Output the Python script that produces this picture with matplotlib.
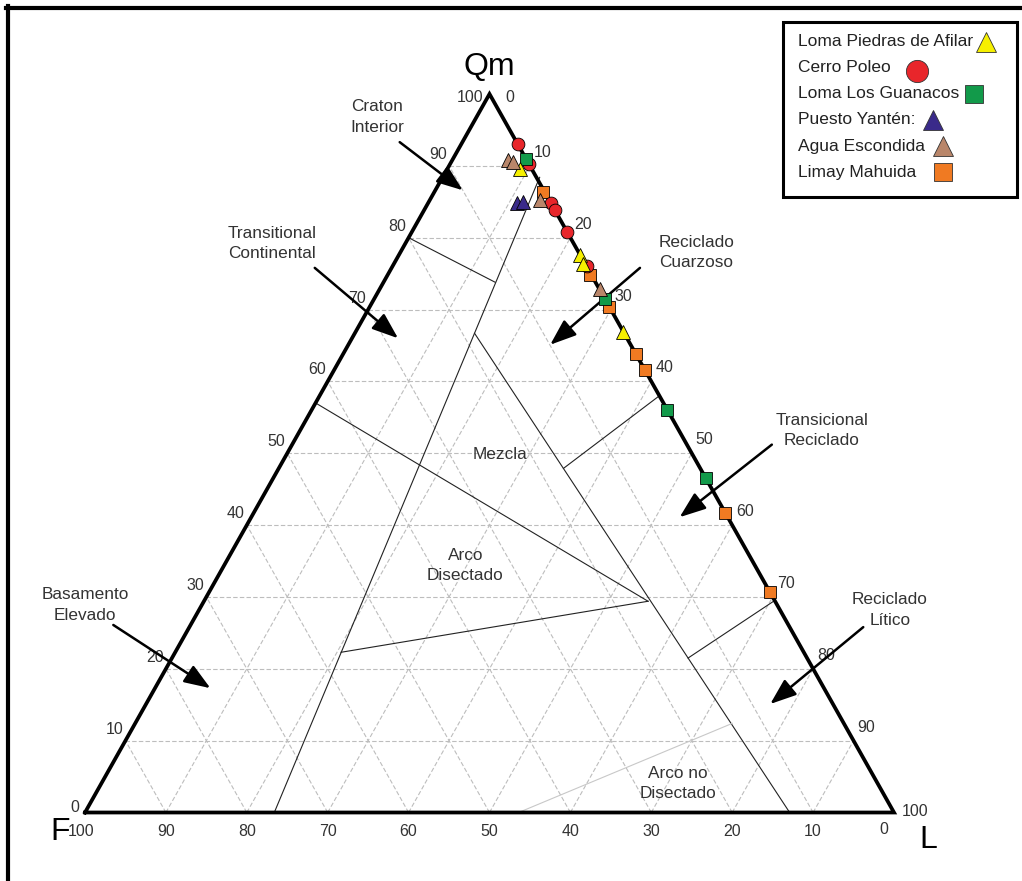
import numpy as np
import matplotlib
matplotlib.use("Agg")
import matplotlib.pyplot as plt
from matplotlib.lines import Line2D
from matplotlib.patches import FancyArrowPatch, Rectangle

plt.rcParams['font.family'] = ['Liberation Sans', 'DejaVu Sans']

W, H = 1022, 881

# muestras: Qm y Lt en %, F = 100 - Qm - Lt
afilar_qm = [89.5, 77.6, 76.4, 66.9]
afilar_lt = [9.0, 22.4, 23.3, 33.1]
poleo_qm = [93.0, 90.3, 84.8, 83.9, 80.8, 76.0]
poleo_lt = [7.0, 9.7, 15.2, 16.1, 19.2, 24.0]
guanacos_qm = [91.0, 71.4, 56.0, 46.5]
guanacos_lt = [9.0, 28.6, 44.0, 53.5]
yanten_qm = [84.8, 85.0]
yanten_lt = [11.0, 11.7]
escondida_qm = [90.8, 90.6, 85.2, 72.8]
escondida_lt = [6.9, 7.6, 13.6, 27.2]
mahuida_qm = [86.4, 74.8, 70.4, 63.8, 61.6, 41.7, 30.7]
mahuida_lt = [13.4, 25.0, 29.6, 36.2, 38.4, 58.3, 69.3]

names = ['Loma Piedras de Afilar', 'Cerro Poleo', 'Loma Los Guanacos',
         'Puesto Yantén:', 'Agua Escondida', 'Limay Mahuida']

# limites de campos (Qm, Lt) - Dickinson QmFLt
field_lines = [
    [(0, 23.4), (88.4, 12.0)],
    [(80, 0), (73.8, 13.8)],
    [(57, 0), (29.4, 54.9)],
    [(66.7, 14.8), (0, 87.1)],
    [(29.4, 54.9), (22.3, 20.5)],
    [(47.9, 35.2), (58, 42)],
    [(21.5, 63.8), (29.5, 70.5)],
]
faint_line = [(0, 53.6), (12.4, 73.8)]

field_labels = ['Craton\nInterior', 'Transitional\nContinental', 'Reciclado\nCuarzoso',
                'Mezcla', 'Transicional\nReciclado', 'Arco\nDisectado',
                'Basamento\nElevado', 'Reciclado\nLítico', 'Arco no\nDisectado']
# posicion del texto (x, y en coords del triangulo)
label_pos = [(36.1, 96.8), (23.1, 79.2), (75.6, 77.9), (51.3, 49.8), (91.1, 53.2),
             (47.0, 34.4), (0.0, 28.9), (99.5, 28.2), (73.3, 4.0)]
arrows = [((38.9, 93.3), (46.7, 86.6)), ((28.4, 75.8), (38.7, 66.0)),
          ((68.6, 75.8), (57.5, 65.1)), ((84.9, 51.2), (73.5, 41.1)),
          ((3.5, 26.1), (15.5, 17.3)), ((96.2, 25.8), (84.7, 15.1))]


def tern(qm, lt):
    qm = np.asarray(qm, float)
    lt = np.asarray(lt, float)
    return lt + qm / 2.0, qm


fig = plt.figure(figsize=(W / 100, H / 100), dpi=100)
ax = fig.add_axes([85 / W, (H - 812.5) / H, 809 / W, 718.5 / H])
ax.set_xlim(0, 100)
ax.set_ylim(0, 100)
ax.axis('off')

# grilla
grid_kw = dict(color='#bdbdbd', lw=0.8, ls=(0, (4, 2)), zorder=1)
for v in range(10, 100, 10):
    x, y = tern([v, v], [0, 100 - v])
    ax.plot(x, y, **grid_kw)
    x, y = tern([0, 100 - v], [v, v])
    ax.plot(x, y, **grid_kw)
    x, y = tern([0, 100 - v], [100 - v, 0])
    ax.plot(x, y, **grid_kw)

# limites de campos
for seg in field_lines:
    x, y = tern([p[0] for p in seg], [p[1] for p in seg])
    ax.plot(x, y, color='#222222', lw=0.8, zorder=2)
x, y = tern([p[0] for p in faint_line], [p[1] for p in faint_line])
ax.plot(x, y, color='#c8c8c8', lw=0.8, zorder=2)

# triangulo
x, y = tern([0, 0, 100, 0], [0, 100, 0, 0])
ax.plot(x, y, color='black', lw=2.7, solid_joinstyle='miter', zorder=3, clip_on=False)

# etiquetas de campos y flechas
for txt, (px, py) in zip(field_labels, label_pos):
    ax.text(px, py, txt, ha='center', va='center', fontsize=12.4, color='#333333',
            linespacing=1.45, zorder=4)
for (a, b) in arrows:
    ax.add_patch(FancyArrowPatch(a, b, arrowstyle='-|>,head_length=1.6,head_width=0.6',
                                 mutation_scale=10, lw=1.8, color='black',
                                 shrinkA=0, shrinkB=0, zorder=5, clip_on=False))

# numeros de los ejes
pt = 0.72
tick_kw = dict(textcoords='offset points', fontsize=11.5, color='#333333')
for v in range(0, 101, 10):
    # lado izquierdo: Qm
    if v == 100:
        ax.annotate(str(v), tern(v, 0), xytext=(-6 * pt, -4 * pt), ha='right', va='center', **tick_kw)
    elif v == 0:
        ax.annotate(str(v), tern(v, 0), xytext=(-6 * pt, -2 * pt), ha='right', va='bottom', **tick_kw)
    else:
        ax.annotate(str(v), tern(v, 0), xytext=(-2 * pt, 4 * pt), ha='right', va='bottom', **tick_kw)
    # lado derecho: L
    if v == 0:
        ax.annotate(str(v), tern(100, 0), xytext=(16 * pt, -3 * pt), ha='left', va='center', **tick_kw)
    elif v == 100:
        ax.annotate(str(v), tern(0, 100), xytext=(8 * pt, 1 * pt), ha='left', va='center', **tick_kw)
    else:
        ax.annotate(str(v), tern(100 - v, v), xytext=(4 * pt, 6 * pt), ha='left', va='bottom', **tick_kw)
    # base: F
    if v == 100:
        ax.annotate(str(v), tern(0, 0), xytext=(-4 * pt, -11 * pt), ha='center', va='top', **tick_kw)
    elif v == 0:
        ax.annotate(str(v), tern(0, 100), xytext=(-10 * pt, -10 * pt), ha='center', va='top', **tick_kw)
    else:
        ax.annotate(str(v), tern(0, 100 - v), xytext=(0, -11 * pt), ha='center', va='top', **tick_kw)

# vertices
big_kw = dict(textcoords='offset points', fontsize=23, color='black', ha='center', va='center')
ax.annotate('Qm', tern(100, 0), xytext=(0, 27 * pt), **big_kw)
ax.annotate('F', tern(0, 0), xytext=(-25 * pt, -20 * pt), **big_kw)
ax.annotate('L', tern(0, 100), xytext=(34 * pt, -28 * pt), **big_kw)

# muestras
pt_kw = dict(ls='none', mec='black', mew=0.6, zorder=6, clip_on=False)
ax.plot(*tern(mahuida_qm, mahuida_lt), marker='s', ms=8.6, mfc='#f07a22', **pt_kw)
ax.plot(*tern(poleo_qm, poleo_lt), marker='o', ms=9.2, mfc='#e8262b', **pt_kw)
ax.plot(*tern(guanacos_qm, guanacos_lt), marker='s', ms=8.6, mfc='#129a4a', **pt_kw)
ax.plot(*tern(afilar_qm, afilar_lt), marker='^', ms=9.5, mfc='#f6f000', **pt_kw)
ax.plot(*tern(escondida_qm, escondida_lt), marker='^', ms=9.5, mfc='#b9866a', **pt_kw)
ax.plot(*tern(yanten_qm, yanten_lt), marker='^', ms=9.5, mfc='#3a2a8a', **pt_kw)

# marco
fig.add_artist(Line2D([8 / W, 8 / W], [0, 1 - 6 / H], color='black', lw=3, transform=fig.transFigure))
fig.add_artist(Line2D([6 / W, 1], [1 - 8 / H, 1 - 8 / H], color='black', lw=3, transform=fig.transFigure))

# leyenda
fig.add_artist(Rectangle((783 / W, 1 - 197 / H), 234 / W, 175 / H, transform=fig.transFigure,
                         facecolor='white', edgecolor='black', lw=2.2, zorder=7))
leg_style = [('^', '#f6f000', 15), ('o', '#e8262b', 16), ('s', '#129a4a', 12.5),
             ('^', '#3a2a8a', 15), ('^', '#b9866a', 15), ('s', '#f07a22', 12.5)]
leg_gap = [13, 26, 15, 17, 18, 27]
texts = []
for i, name in enumerate(names):
    yc = 42 + 26 * i
    texts.append(fig.text(798 / W, 1 - yc / H, name, fontsize=12.5, color='#222222',
                          va='center', ha='left', zorder=8))
fig.canvas.draw()
rend = fig.canvas.get_renderer()
for i, t in enumerate(texts):
    bb = t.get_window_extent(rend)
    mk, col, ms = leg_style[i]
    xm = bb.x1 + leg_gap[i]
    ym = H - (42 + 26 * i) - (3 if mk == 'o' else 0)
    fig.add_artist(Line2D([xm / W], [(ym) / H], marker=mk, ms=ms, mfc=col, mec='#333333',
                          mew=0.6, ls='none', transform=fig.transFigure, zorder=9))

fig.savefig('out.png', dpi=100)
